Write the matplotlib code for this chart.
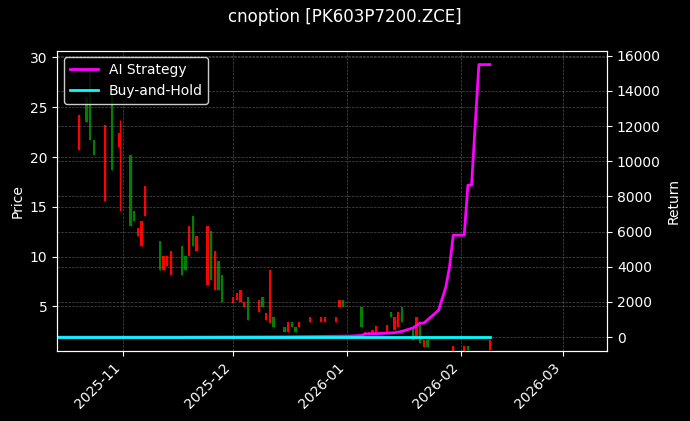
import matplotlib
matplotlib.use("Agg")
import matplotlib.pyplot as plt
import matplotlib.dates as mdates
import pandas as pd
import numpy as np

dates = ["2025-10-20","2025-10-22","2025-10-23","2025-10-24","2025-10-27","2025-10-29","2025-10-31",
         "2025-11-03","2025-11-04","2025-11-05","2025-11-06","2025-11-07","2025-11-11","2025-11-12",
         "2025-11-13","2025-11-14","2025-11-17","2025-11-18","2025-11-19","2025-11-20","2025-11-21",
         "2025-11-24","2025-11-25","2025-11-26","2025-11-27","2025-11-28","2025-12-01","2025-12-02",
         "2025-12-03","2025-12-04","2025-12-05","2025-12-08","2025-12-09","2025-12-10","2025-12-11",
         "2025-12-12","2025-12-15","2025-12-16","2025-12-17","2025-12-18","2025-12-19","2025-12-22",
         "2025-12-25","2025-12-26","2025-12-29","2025-12-30","2025-12-31","2026-01-05","2026-01-06",
         "2026-01-07","2026-01-08","2026-01-09","2026-01-12","2026-01-13","2026-01-14","2026-01-15",
         "2026-01-16","2026-01-19","2026-01-20","2026-01-21","2026-01-22","2026-01-23","2026-01-30",
         "2026-02-02","2026-02-03","2026-02-09"]
opens  = [24.2,23.5,21.7,20.2,23.2,18.7,22.4,13.1,13.6,12.9,13.6,17.1,8.6,10.1,10.1,10.6,8.1,8.6,13.1,11.1,12.1,
          13.1,7.6,10.6,6.6,5.4,5.9,6.3,6.6,5.4,3.6,5.6,4.9,4.3,8.6,2.9,2.4,3.4,2.9,2.4,3.4,3.9,3.9,3.9,3.9,
          5.6,4.9,2.9,2.4,2.4,2.6,3.0,3.1,3.9,3.9,4.4,3.4,1.6,3.9,1.3,1.6,0.9,1.0,1.0,0.6,1.6]
closes = [20.7,26.0,28.7,21.7,15.6,26.4,21.0,20.2,14.6,12.1,11.1,14.1,11.6,8.6,9.1,8.1,11.1,10.1,10.1,14.1,10.6,
          7.1,12.6,6.6,9.6,8.1,5.3,5.6,5.4,4.9,5.9,4.4,5.9,3.6,3.3,3.9,2.9,2.4,3.4,2.9,2.9,3.4,3.4,3.4,3.4,
          4.9,5.6,4.9,2.1,2.1,2.1,2.1,2.3,4.4,2.6,2.9,4.9,2.9,1.9,3.1,0.9,1.6,0.5,0.5,1.0,0.6]
highs  = [max(o, c) for o, c in zip(opens, closes)]
lows   = [min(o, c) for o, c in zip(opens, closes)]
highs[6] = 23.7
lows[6] = 14.6

line_dates = ["2025-10-14","2025-11-15","2025-12-15","2026-01-02","2026-01-05","2026-01-06","2026-01-09",
              "2026-01-14","2026-01-16","2026-01-19","2026-01-21","2026-01-22","2026-01-26","2026-01-28",
              "2026-01-29","2026-01-30","2026-02-02","2026-02-03","2026-02-04","2026-02-06","2026-02-09"]
strategy = [0,0,20,60,100,180,200,250,330,520,800,800,1530,2860,4000,5800,5800,8640,8640,15500,15500]
bh_dates = ["2025-10-14","2026-02-09"]
buyhold = [0,0]

plt.style.use("dark_background")
fig, ax = plt.subplots(figsize=(6.9,4.21), dpi=100)
fig.patch.set_facecolor("black")
ax.set_facecolor("black")
ax2 = ax.twinx()

d = mdates.date2num(pd.to_datetime(dates))
for x, o, c, h, l in zip(d, opens, closes, highs, lows):
    col = "red" if c < o else "green"
    ax.vlines(x, l, h, color=col, linewidth=1)
    ax.bar(x, max(abs(c-o), 0.15), bottom=min(o, c), width=0.6, color=col)

ax.set_ylim(0.5, 30.7)
ax.set_xlim(pd.Timestamp("2025-10-14"), pd.Timestamp("2026-03-13"))
ax.set_ylabel("Price")
ax.grid(True, color="gray", linestyle="--", linewidth=0.5, alpha=0.6)
ax.xaxis.set_major_locator(mdates.MonthLocator())
ax.xaxis.set_major_formatter(mdates.DateFormatter("%Y-%m"))
plt.setp(ax.get_xticklabels(), rotation=45, ha="right")

l1, = ax2.plot(pd.to_datetime(line_dates), strategy, color="#ff00ff", linewidth=2, label="AI Strategy")
l2, = ax2.plot(pd.to_datetime(bh_dates), buyhold, color="#00ffff", linewidth=2, label="Buy-and-Hold")
ax2.set_ylim(-795, 16300)
ax2.set_ylabel("Return")
ax2.grid(True, color="gray", linestyle="--", linewidth=0.5, alpha=0.6)
ax2.legend(handles=[l1, l2], loc="upper left", facecolor="black", edgecolor="white")

fig.suptitle("cnoption [PK603P7200.ZCE]")
fig.subplots_adjust(left=0.083, right=0.88, top=0.88, bottom=0.166)
fig.savefig("out.png", dpi=100, facecolor="black")
